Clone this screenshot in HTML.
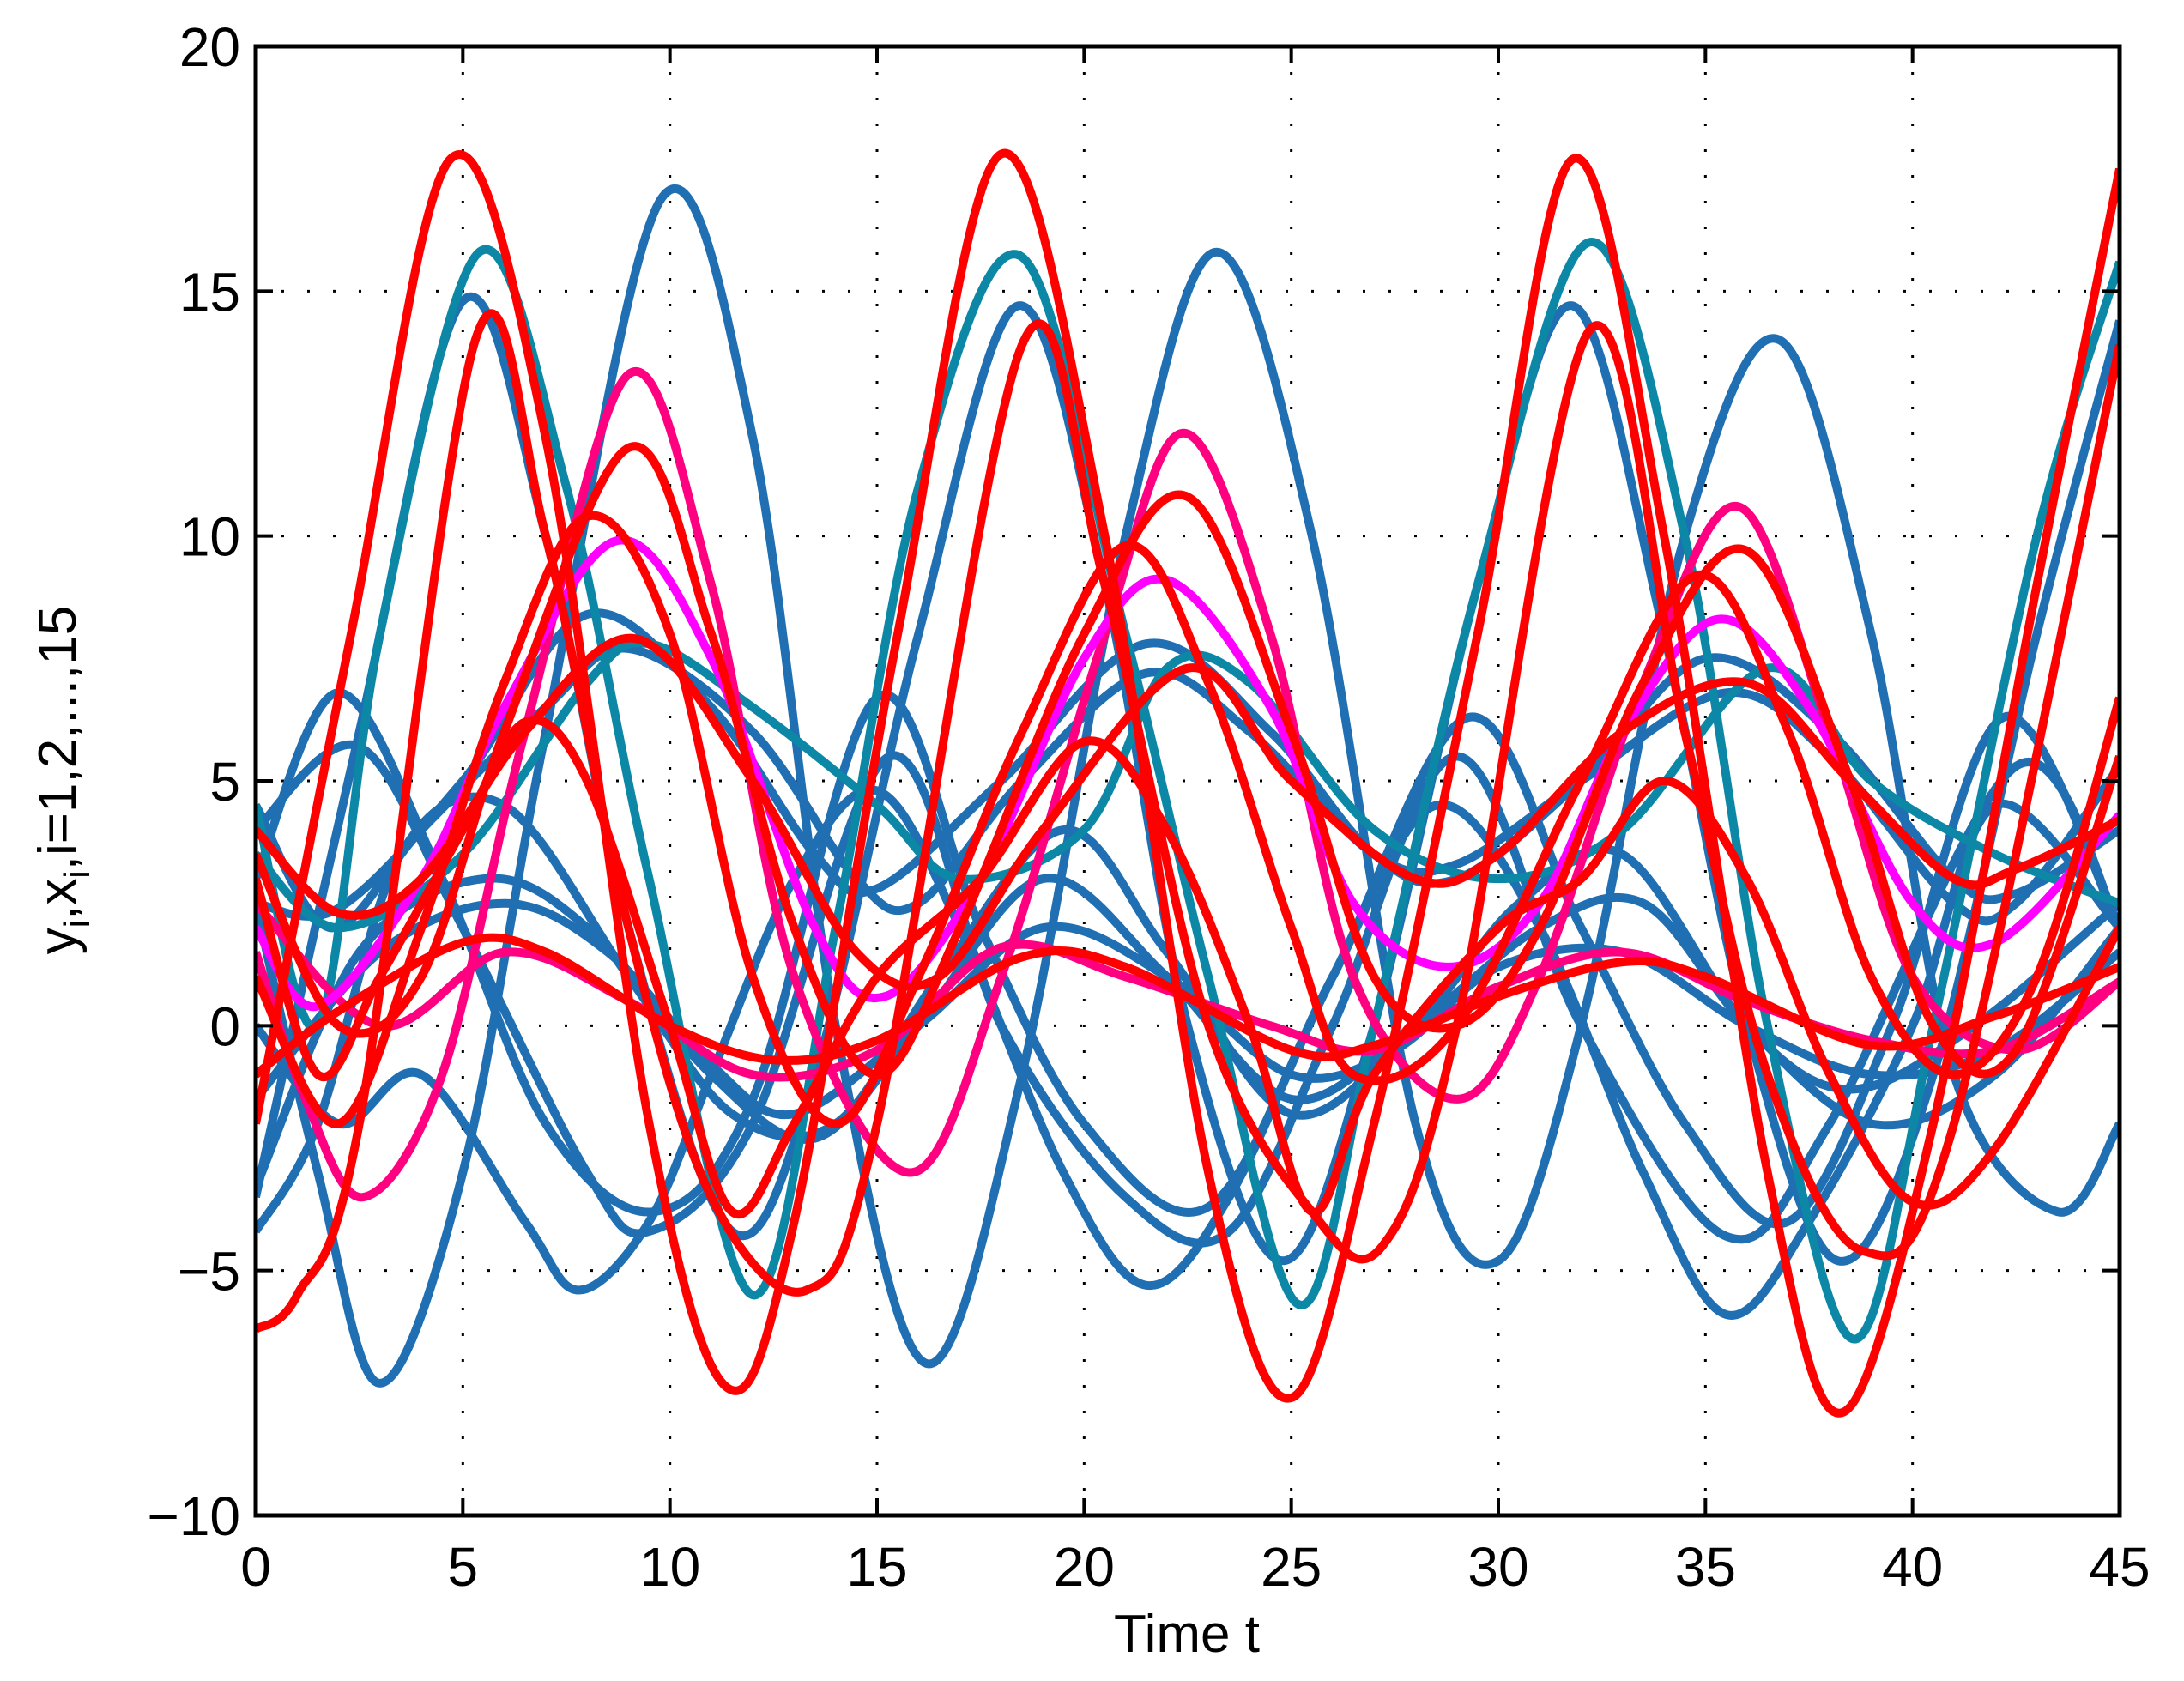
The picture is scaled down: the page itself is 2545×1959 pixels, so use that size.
<!DOCTYPE html>
<html><head><meta charset="utf-8"><style>
html,body{margin:0;padding:0;background:#fff;}
svg{display:block;font-family:"Liberation Sans",Arial,sans-serif;}
</style></head><body>
<svg id="chart" width="2545" height="1959" viewBox="0 0 2545 1959" xmlns="http://www.w3.org/2000/svg">
<rect width="2545" height="1959" fill="#fff"/>
<g id="grid"></g>
<g id="series"></g>
<rect x="298" y="54" width="2172" height="1712" fill="none" stroke="#000" stroke-width="5"/>
<g id="ticks"></g>
<text x="1383" y="1925" font-size="62" text-anchor="middle">Time t</text>
<text transform="translate(88,909) rotate(-90)" font-size="62" text-anchor="middle">y<tspan font-size="42" dy="16">i</tspan><tspan dy="-16">,x</tspan><tspan font-size="42" dy="16">i</tspan><tspan dy="-16">,i=1,2,...,15</tspan></text>
</svg>
<script>
const xTicks=[0,5,10,15,20,25,30,35,40,45];
const yTicks=[-10,-5,0,5,10,15,20];
const xTickLabels=["0","5","10","15","20","25","30","35","40","45"];
const yTickLabels=["\u221210","\u22125","0","5","10","15","20"];
const seriesNames=["blue-E","blue-P","blue-Q","blue-R","blue-S","blue-T","blue-U","blue-W","blue-Y","blue-D","teal-X","teal-C","pink-F","pink-low","magenta-H","red-L","red-K","red-J","red-I","red-M","red-B","red-A"];
const seriesColors=["#1f6fb2","#1f6fb2","#1f6fb2","#1f6fb2","#1f6fb2","#1f6fb2","#1f6fb2","#1f6fb2","#1f6fb2","#1f6fb2","#0c88a6","#0c88a6","#ff0080","#ff0080","#ff00ff","#ff0000","#ff0000","#ff0000","#ff0000","#ff0000","#ff0000","#ff0000"];
const seriesT=[
[0,1.5,3,5,7,9.8,12,14,16.2,18.5,21,23.2,25.5,28,30,32,34.5,36.8,39,41,43.5,45],
[0,2,4.5,7,9.6,12,15,17.5,20,23,26,29.3,32,34.5,37,39.5,42.2,45],
[0,2.5,5,8,9.5,12,15.3,18,21,23.5,26,29,32,35.5,38,42.5,45],
[0,1.5,3.5,6,9,11.5,14,16.5,19.5,22,25,28,30.5,33,36,38.5,41.5,45],
[0,2.5,5.5,8,11,13.5,16,19,22,25,28,31,33.5,36,39,42,45],
[0,2,5,8,11,13.5,15,18,21.5,24.5,27,29,32,35,38,41,42.5,45],
[0,1.8,4,7,9,12,14.5,16,18.5,21.5,24,27,29,32,35.5,38,41,42.5,45],
[0,2,4,6.5,7.8,9.5,11,13,15,17,19.5,21.5,23.5,26,28.5,31,33.5,35.5,37.5,40,42,45],
[0,3,6,8.5,11,13,16,19,22,25,27.5,30,33,36,39,42,45],
[0,2.5,5,7,9,11.5,13.5,16,18.4,20.5,22.5,24.8,27,29.5,31.8,34,36,38.2,40.5,43,45],
[0,2,5,8,9.5,12,15,17,20,22,24,27,30,33,36.5,39,42,45],
[0,1.5,3,5.4,7.5,9.5,12,14,16,18.5,21,23,25.2,27,29.5,32.2,34.5,36.5,38.6,40.5,43,45],
[0,1.2,2.6,4.5,6.5,9,11,13,15.8,18,20.5,22.4,24.5,26.5,29,31,33.5,35.8,38,40,42.5,45],
[0,3,6,9,12,15,18,21,24.5,27,30,33,36,39,42,45],
[0,1.5,4,6,8.7,11,13.5,15.2,17.5,20,22,24.5,26.5,28.8,31,33,35.3,37.5,40,42,45],
[0,2,5,7,10,12.5,15,18.5,21,25,27,30,33,35,39,42,45],
[0,2,4,6.5,9.2,12,14.5,16.5,19,22.5,25,28,30,33,36,38.5,41,42.5,45],
[0,2,4,6,9,11,13,15,17,20,22.5,25,27,29,31,33.5,36,38.5,40.5,42.5,45],
[0,2,4,6,8,10,12,14,16,18.5,21,23,25,26.5,29,32,34.8,37,39,41,43,45],
[0,1.5,3,5,6.5,8,10,11.5,13,15,17.5,20,22,24,25.5,27,30,32,34,36,38,40,42,45],
[0,1,2.5,5.3,7,9,11,13.3,15,18.5,20.5,23,25.5,27.2,29,32.2,34.5,36.5,38.8,41,45],
[0,2.3,4.7,7,9.5,11.4,13,15.5,18,20.5,23,25,27,29.5,31.8,34,36.5,38.3,40.5,43,45]
];
const seriesV=[
[2.5,-3,-7.3,-3,6,16.9,12,0,-6.9,-1,10,15.8,10,-2,-4.8,0,10,14,8,-1,-3.8,-2],
[3,6.8,3,-2,-3.8,-1.5,6.7,2,-2,-3.7,1,6.3,2,-2,-4,0,6.3,2],
[4,5.7,2,-3,-4.2,-2,5.5,0,-3.5,-4.2,0,5.5,0,-4.3,-2,5.3,2],
[-4.2,-2,3.5,4.5,1,-1.8,-2,1,4,1.5,-1.8,0,2.5,3.5,0,-1.3,0,2.5],
[-3.3,1.5,3,2,-1,-2.3,0,3,1,-1.5,0,2,2.5,0,-2,-1,2],
[2.5,2.4,5,8.4,6.5,3.5,2.8,5,7.8,6,3.5,3,5,7.5,6,3,2.7,4],
[4.5,2,4,6.5,7.7,6,3,2.5,5,7.2,6,3.5,3.3,5,6.8,5.5,2.5,2.5,5.3],
[0,-2,-1,-4,-5.4,-4,-1,3,4.8,2,-3,-5.3,-3.5,1,4.5,2,-3,-5.9,-4,0,4.5,2],
[-1.5,1.5,2.5,1.5,-0.8,-1.8,0,2,1,-1,-0.5,1.2,1.5,0,-1,-0.5,1.5],
[-3.5,6,14.8,10,2,-4.2,-1,8,14.7,9,0,-4.8,0,9,14.7,8,0,-4.8,-1,8,14.4],
[3.5,2,3.5,7,7.8,6.5,4.5,3,4,7.3,7,4,3,4,7.3,5,3.5,2.5],
[4.5,0,8,15.8,11,3,-5.5,2,11,15.7,8,1,-5.7,0,9,16,10,0,-6.4,0,10,15.6],
[1.5,-1.5,-3.5,-1,6,13.3,9,1,-3,1,8,12.1,8,1,-1.5,1,7,10.6,6,1,-0.5,0.9],
[2.5,0,1.5,0.5,-1,-0.5,1.6,1,0,-0.5,0.8,1.5,0.5,-0.3,-0.5,0.9],
[2,0.4,3,6.5,9.9,7.5,2,0.6,3,7.5,9.1,6.5,2.5,1.2,2.5,6,8.3,6.5,2.5,1.7,4.3],
[-1,0.3,1.7,1.5,0,-0.7,-0.3,1.4,1.2,-0.5,-0.4,0.6,1.3,1,-0.4,0.2,1.2],
[4,2.3,3,6,7.9,5,1.5,1,4,7.3,5,3,3.5,6,7,5,3,3.2,4.2],
[3.5,0,1,6,11.8,8,2,-1,2,8,10.8,6,1,0,2,7,9.7,5,0,-0.5,5.5],
[1,-2,2,7,10.4,8,1,-2,1,6,9.8,7,2,-1,0,5,9.2,6,1,-1,1,6.7],
[3,-1,1,4,6.2,5,0,-3.8,-2,1,3,5.8,4,0,-3.8,-1,2,3,5,3,-1,-3.6,-2.5,2],
[-6.2,-5.5,-2,14,10,2,-3.5,-5.4,-2,13.9,9,0,-3.8,-4.5,0,14.2,6,-1,-4.6,-2,13.9],
[-2,8,17.7,12,-2,-7.4,-4,8,17.8,10,-3,-7.6,-2,8,17.7,10,-3,-7.9,-2,9,17.5]
];
const NS="http://www.w3.org/2000/svg";
const L=298,R=2470,T=54,B=1766,X0=0,X1=45,Y0=-10,Y1=20;
function sx(t){return L+(t-X0)/(X1-X0)*(R-L);}
function sy(v){return B-(v-Y0)/(Y1-Y0)*(B-T);}
const grid=document.getElementById('grid'),ticks=document.getElementById('ticks'),sg=document.getElementById('series');
xTicks.forEach((t,i)=>{
  if(i>0&&i<xTicks.length-1){const g=document.createElementNS(NS,'line');
  g.setAttribute('x1',sx(t));g.setAttribute('x2',sx(t));g.setAttribute('y1',T);g.setAttribute('y2',B);
  g.setAttribute('stroke','#000');g.setAttribute('stroke-width','3');g.setAttribute('stroke-dasharray','3 27');
  
  
  grid.appendChild(g);}
  const tk=document.createElementNS(NS,'path');
  tk.setAttribute('d',`M${sx(t)},${B}v-20M${sx(t)},${T}v20`);tk.setAttribute('stroke','#000');tk.setAttribute('stroke-width','4');
  
  
  ticks.appendChild(tk);
  const tx=document.createElementNS(NS,'text');
  tx.setAttribute('x',sx(t));tx.setAttribute('y',B+82);tx.setAttribute('font-size','64');tx.setAttribute('text-anchor','middle');
  tx.textContent=xTickLabels[i];
  
  
  ticks.appendChild(tx);
});
yTicks.forEach((v,i)=>{
  if(i>0&&i<yTicks.length-1){const g=document.createElementNS(NS,'line');
  g.setAttribute('x1',L);g.setAttribute('x2',R);g.setAttribute('y1',sy(v));g.setAttribute('y2',sy(v));
  g.setAttribute('stroke','#000');g.setAttribute('stroke-width','3');g.setAttribute('stroke-dasharray','3 27');
  
  
  grid.appendChild(g);}
  const tk=document.createElementNS(NS,'path');
  tk.setAttribute('d',`M${L},${sy(v)}h20M${R},${sy(v)}h-20`);tk.setAttribute('stroke','#000');tk.setAttribute('stroke-width','4');
  
  
  ticks.appendChild(tk);
  const tx=document.createElementNS(NS,'text');
  tx.setAttribute('x',L-18);tx.setAttribute('y',sy(v)+23);tx.setAttribute('font-size','64');tx.setAttribute('text-anchor','end');
  tx.textContent=yTickLabels[i];
  
  
  ticks.appendChild(tx);
});
function pathFor(ts,vs){
  const p=ts.map((t,i)=>[sx(t),sy(vs[i])]);
  let d=`M${p[0][0].toFixed(1)},${p[0][1].toFixed(1)}`;
  for(let i=0;i<p.length-1;i++){
    const p0=p[Math.max(0,i-1)],p1=p[i],p2=p[i+1],p3=p[Math.min(p.length-1,i+2)];
    const c1=[p1[0]+(p2[0]-p0[0])/6,p1[1]+(p2[1]-p0[1])/6];
    const c2=[p2[0]-(p3[0]-p1[0])/6,p2[1]-(p3[1]-p1[1])/6];
    d+=`C${c1[0].toFixed(1)},${c1[1].toFixed(1)} ${c2[0].toFixed(1)},${c2[1].toFixed(1)} ${p2[0].toFixed(1)},${p2[1].toFixed(1)}`;
  }
  return d;
}
const cp=document.createElementNS(NS,'clipPath');cp.setAttribute('id','clip');
const cr=document.createElementNS(NS,'rect');cr.setAttribute('x',L);cr.setAttribute('y',T);cr.setAttribute('width',R-L);cr.setAttribute('height',B-T);
cp.appendChild(cr);document.getElementById('chart').appendChild(cp);
sg.setAttribute('clip-path','url(#clip)');
seriesNames.forEach((n,i)=>{
  const pa=document.createElementNS(NS,'path');
  pa.setAttribute('d',pathFor(seriesT[i],seriesV[i]));
  pa.setAttribute('fill','none');pa.setAttribute('stroke',seriesColors[i]);pa.setAttribute('stroke-width','10');
  pa.setAttribute('stroke-linejoin','round');
  
  
  sg.appendChild(pa);
});
</script>
</body></html>
